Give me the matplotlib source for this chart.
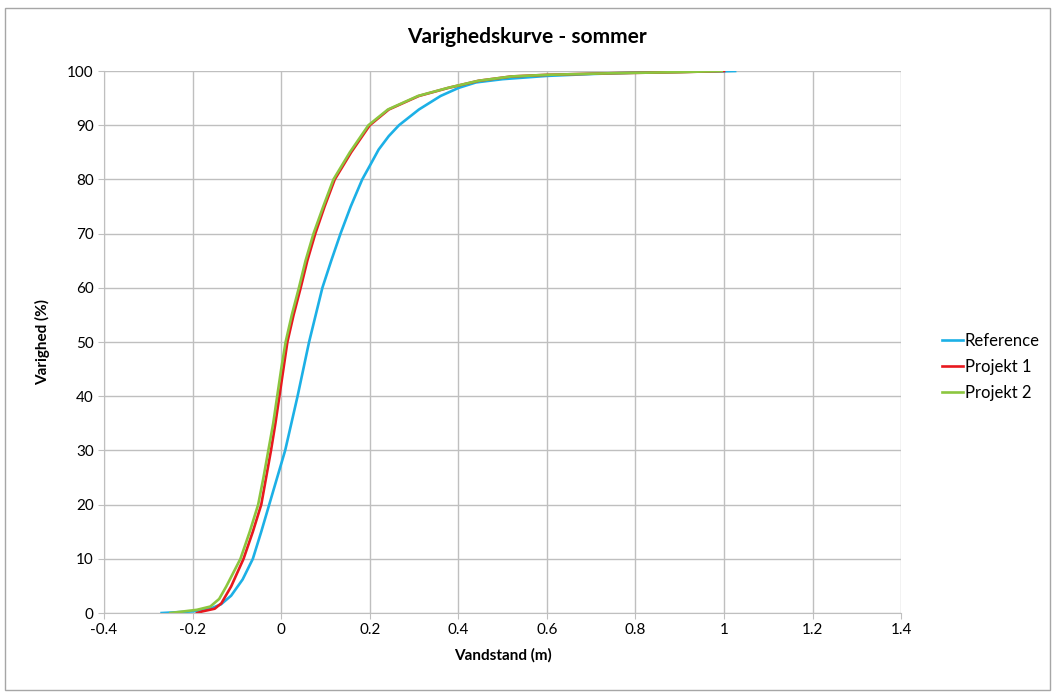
import matplotlib
matplotlib.use("Agg")
import matplotlib.pyplot as plt
from matplotlib.patches import Rectangle

plt.rcParams['font.family'] = ['Lato', 'DejaVu Sans']

# Reference (blue)
ref_x = [-0.27, -0.2, -0.16, -0.136, -0.113, -0.087, -0.064, -0.045, -0.027, -0.009, 0.009, 0.023,
         0.037, 0.05, 0.063, 0.078, 0.093, 0.113, 0.134, 0.157, 0.183, 0.2, 0.22, 0.243, 0.266,
         0.311, 0.36, 0.401, 0.44, 0.5, 0.6, 0.7, 0.8, 0.9, 1.0, 1.025]
ref_y = [0, 0.3, 0.8, 1.6, 3.2, 6.2, 10, 15, 20, 25, 30, 35,
         40, 45, 50, 55, 60, 65, 70, 75, 80, 82.5, 85.5, 88, 90,
         92.9, 95.4, 96.9, 97.9, 98.5, 99.1, 99.45, 99.7, 99.85, 99.95, 100]

# Projekt 1 (red)
p1_x = [-0.19, -0.178, -0.15, -0.135, -0.113, -0.085, -0.064, -0.045, -0.034, -0.023, -0.013, -0.004,
        0.005, 0.014, 0.028, 0.044, 0.059, 0.077, 0.098, 0.121, 0.158, 0.2, 0.243, 0.311, 0.378,
        0.446, 0.52, 0.6, 0.75, 0.9, 1.0]
p1_y = [0, 0.3, 0.8, 1.8, 4.9, 10, 15, 20, 25, 30, 35, 40,
        45, 50, 55, 60, 65, 70, 75, 80, 85, 90, 92.9, 95.4, 96.9,
        98.2, 99.0, 99.3, 99.6, 99.8, 100]

# Projekt 2 (green)
p2_x = [-0.25, -0.19, -0.16, -0.14, -0.124, -0.092, -0.071, -0.052, -0.04, -0.029, -0.018, -0.009,
        0.0, 0.01, 0.024, 0.04, 0.055, 0.073, 0.095, 0.118, 0.155, 0.197, 0.241, 0.309, 0.377,
        0.445, 0.52, 0.6, 0.75, 0.9, 0.995]
p2_y = [0, 0.6, 1.2, 2.6, 4.9, 10, 15, 20, 25, 30, 35, 40,
        45, 50, 55, 60, 65, 70, 75, 80, 85, 90, 92.9, 95.4, 96.9,
        98.2, 99.0, 99.3, 99.6, 99.8, 100]

fig = plt.figure(figsize=(10.53, 6.93), dpi=100)
ax = fig.add_axes([0.0988, 0.1154, 0.757, 0.7821])

ax.plot(ref_x, ref_y, color='#1CB0E6', lw=1.9, label='Reference')
ax.plot(p1_x, p1_y, color='#E8181E', lw=1.9, label='Projekt 1')
ax.plot(p2_x, p2_y, color='#8CC63F', lw=1.9, label='Projekt 2')

ax.set_xlim(-0.4, 1.4)
ax.set_ylim(0, 100)
ax.set_xticks([-0.4, -0.2, 0, 0.2, 0.4, 0.6, 0.8, 1, 1.2, 1.4])
ax.set_xticklabels(['-0.4', '-0.2', '0', '0.2', '0.4', '0.6', '0.8', '1', '1.2', '1.4'])
ax.set_yticks(range(0, 101, 10))
ax.grid(True, color='#BFBFBF', lw=1)
ax.set_axisbelow(True)
for s in ['top', 'right']:
    ax.spines[s].set_visible(False)
for s in ['left', 'bottom']:
    ax.spines[s].set_color('#BFBFBF')
ax.tick_params(colors='#BFBFBF', labelcolor='black', labelsize=11, length=4)

ax.set_xlabel('Vandstand (m)', fontsize=11, fontweight='bold', labelpad=8)
ax.set_ylabel('Varighed (%)', fontsize=11, fontweight='bold', labelpad=12)
fig.suptitle('Varighedskurve - sommer', x=0.5, y=0.961, fontsize=15, fontweight='bold')

fig.legend(loc='center left', bbox_to_anchor=(0.88, 0.47), frameon=False, fontsize=12,
           handlelength=1.3, handletextpad=0.1, labelspacing=0.6)

fig.patches.append(Rectangle((0.005, 0.004), 0.992, 0.985, transform=fig.transFigure,
                             fill=False, edgecolor='#A6A6A6', lw=1))

fig.savefig('out.png', dpi=100)
